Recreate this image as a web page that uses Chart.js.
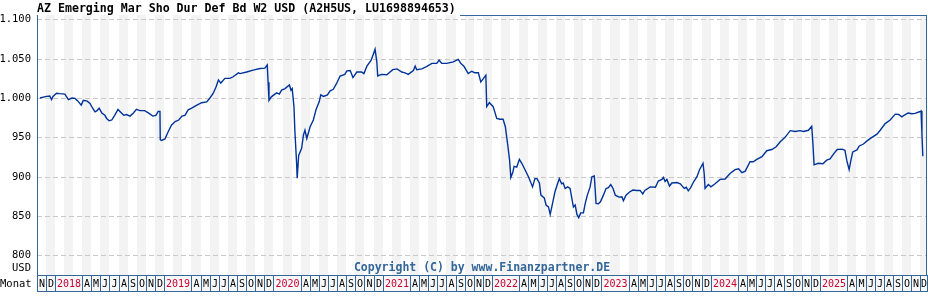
<!DOCTYPE html>
<html>
<head>
<meta charset="utf-8">
<script src="https://cdn.jsdelivr.net/npm/chart.js@4"></script>
<style>
  html, body { margin: 0; padding: 0; background: #fff; }
</style>
</head>
<body>
<canvas id="fundChart" width="928" height="300"></canvas>
<script>
// Fund price chart, Finanzpartner style

const chartTitle = 'AZ Emerging Mar Sho Dur Def Bd W2 USD (A2H5US, LU1698894653)';
const copyright = 'Copyright (C) by www.Finanzpartner.DE';
const yTicks = [800, 850, 900, 950, 1000, 1050, 1100];
const monthLetters = ['J', 'F', 'M', 'A', 'M', 'J', 'J', 'A', 'S', 'O', 'N', 'D'];

const dates = [
    '2017-11-12', '2017-12-04', '2017-12-15', '2017-12-21', '2017-12-26',
    '2018-01-07', '2018-01-18', '2018-02-04', '2018-02-15', '2018-02-26', '2018-03-08', '2018-03-18', '2018-03-29',
    '2018-04-05', '2018-04-18', '2018-04-27', '2018-05-06', '2018-05-14', '2018-05-21', '2018-05-28', '2018-06-06',
    '2018-06-16', '2018-06-22', '2018-06-30', '2018-07-09', '2018-07-19', '2018-07-30', '2018-08-11', '2018-08-19',
    '2018-08-28', '2018-09-09', '2018-09-20', '2018-09-30', '2018-10-12', '2018-10-28', '2018-11-09', '2018-11-24',
    '2018-12-04', '2018-12-12', '2018-12-18', '2018-12-19', '2018-12-23',
    '2019-01-04', '2019-01-15', '2019-01-26', '2019-02-07', '2019-02-18', '2019-02-28', '2019-03-10', '2019-03-21',
    '2019-04-02', '2019-04-19', '2019-05-05', '2019-05-22', '2019-06-02', '2019-06-13', '2019-06-22', '2019-06-30',
    '2019-07-08', '2019-07-22', '2019-08-08', '2019-08-19', '2019-09-06', '2019-09-11', '2019-10-03', '2019-10-25',
    '2019-11-17', '2019-12-03', '2019-12-11', '2019-12-14', '2019-12-17', '2019-12-25',
    '2020-01-12', '2020-01-21', '2020-01-29', '2020-02-09', '2020-02-23', '2020-02-28', '2020-03-03', '2020-03-09',
    '2020-03-12', '2020-03-18', '2020-03-20', '2020-03-25', '2020-04-04', '2020-04-10', '2020-04-15', '2020-04-21',
    '2020-05-02', '2020-05-13', '2020-05-22', '2020-06-02', '2020-06-07', '2020-06-16', '2020-06-29', '2020-07-08',
    '2020-07-19', '2020-07-30', '2020-08-11', '2020-08-27', '2020-09-03', '2020-09-14', '2020-09-23', '2020-10-06',
    '2020-10-22', '2020-10-30', '2020-11-09', '2020-11-23', '2020-12-06', '2020-12-12', '2020-12-15', '2020-12-28',
    '2021-01-15', '2021-02-04', '2021-02-17', '2021-03-04', '2021-03-15', '2021-03-26', '2021-04-12', '2021-04-18',
    '2021-04-23', '2021-05-10', '2021-05-26', '2021-06-13', '2021-06-29', '2021-07-07', '2021-07-16', '2021-08-02',
    '2021-08-24', '2021-09-10', '2021-09-18', '2021-09-29', '2021-10-13', '2021-10-25', '2021-11-05', '2021-11-16',
    '2021-11-24', '2021-12-03', '2021-12-11', '2021-12-14', '2021-12-23',
    '2022-01-05', '2022-01-17', '2022-01-28', '2022-02-07', '2022-02-14', '2022-02-22', '2022-02-27', '2022-03-03',
    '2022-03-10', '2022-03-14', '2022-03-23', '2022-04-01', '2022-04-09', '2022-04-20', '2022-05-01', '2022-05-15',
    '2022-05-23', '2022-05-30', '2022-06-07', '2022-06-12', '2022-06-23', '2022-06-29', '2022-07-07', '2022-07-13',
    '2022-07-21', '2022-07-29', '2022-08-07', '2022-08-13', '2022-08-21', '2022-08-26', '2022-09-02', '2022-09-10',
    '2022-09-18', '2022-09-24', '2022-09-29', '2022-10-05', '2022-10-11', '2022-10-17', '2022-10-24', '2022-11-02',
    '2022-11-08', '2022-11-15', '2022-11-24', '2022-11-30', '2022-12-08', '2022-12-14', '2022-12-22', '2022-12-29',
    '2023-01-08', '2023-01-17', '2023-01-25', '2023-02-02', '2023-02-09', '2023-02-16', '2023-02-27', '2023-03-09',
    '2023-03-14', '2023-03-23', '2023-04-04', '2023-04-15', '2023-04-28', '2023-05-09', '2023-05-18', '2023-05-25',
    '2023-06-12', '2023-06-29', '2023-07-09', '2023-07-21', '2023-07-26', '2023-08-01', '2023-08-07', '2023-08-16',
    '2023-08-24', '2023-09-10', '2023-09-21', '2023-10-04', '2023-10-11', '2023-10-18', '2023-10-26', '2023-11-05',
    '2023-11-16', '2023-11-24', '2023-12-06', '2023-12-10', '2023-12-13', '2023-12-24',
    '2024-01-02', '2024-01-16', '2024-02-02', '2024-02-18', '2024-03-05', '2024-03-22', '2024-04-03', '2024-04-14',
    '2024-04-25', '2024-05-11', '2024-05-22', '2024-06-03', '2024-06-20', '2024-07-06', '2024-07-23', '2024-08-07',
    '2024-08-20', '2024-09-06', '2024-09-23', '2024-10-10', '2024-10-26', '2024-11-07', '2024-11-23', '2024-12-04',
    '2024-12-08', '2024-12-12', '2024-12-26',
    '2025-01-11', '2025-01-24', '2025-02-04', '2025-02-15', '2025-02-26', '2025-03-14', '2025-03-24', '2025-03-30',
    '2025-04-07', '2025-04-13', '2025-04-19', '2025-05-03', '2025-05-11', '2025-05-25', '2025-06-06', '2025-06-22',
    '2025-07-09', '2025-07-20', '2025-08-06', '2025-08-23', '2025-09-09', '2025-09-20', '2025-10-01', '2025-10-08',
    '2025-10-22', '2025-11-04', '2025-11-14', '2025-11-29', '2025-12-04', '2025-12-07', '2025-12-10'
];

const prices = [
    1000, 1002, 1002.5, 998, 1002,
    1006, 1005.5, 1005, 998, 1000, 999.5, 996, 991,
    997, 996, 993, 987, 982.5, 984, 987, 981,
    978, 974, 971, 972, 978, 985.5, 981, 978,
    979, 977, 981, 985.5, 984, 984, 981, 977,
    978, 983, 983, 947, 946,
    948, 957, 965.5, 970, 972, 977, 978, 985,
    987, 991, 994, 995, 1000, 1006, 1014, 1023,
    1019, 1025, 1025, 1027, 1032, 1031, 1033, 1035.5,
    1037.5, 1038, 1042, 1020, 997, 1001.5,
    1006.5, 1005, 1010, 1012, 1016.5, 1010, 1012, 989,
    959, 917, 898, 927, 936, 953, 959, 948.5,
    963.5, 972, 985, 995.5, 1004, 1002, 1004, 1009,
    1011, 1018.5, 1028, 1030, 1034.5, 1035, 1026, 1033,
    1033, 1031, 1040.5, 1048, 1062, 1046, 1028, 1030,
    1029.5, 1036, 1037, 1033, 1032, 1030, 1035, 1040.5,
    1036, 1037, 1040, 1044, 1044, 1048, 1044, 1044,
    1046, 1049, 1044, 1040, 1031, 1034, 1032, 1032,
    1020.5, 1025, 1029, 989, 994,
    989, 974, 973, 973, 963.5, 938, 921, 899,
    906, 913, 912, 922, 917, 908.5, 900, 887,
    897.5, 897.5, 892, 876.5, 873, 864, 861.5, 852,
    866, 880.5, 891, 897.5, 891, 892, 885, 887,
    885, 872, 861.5, 864, 852, 848, 854, 854,
    866, 876.5, 887, 900, 901, 866, 865.5, 868,
    876.5, 885, 886, 890, 885, 876.5, 874, 874.5,
    869.5, 876.5, 880.5, 883, 882.5, 882.5, 878, 882.5,
    887, 886.5, 894.5, 896.5, 899, 894, 896.5, 888,
    892, 892.5, 891, 885, 886.5, 882, 886, 893.5,
    900, 908.5, 917, 904, 885, 890,
    887, 891, 896.5, 897, 904, 909, 910, 905,
    907, 919, 919, 922, 925.5, 933, 934.5, 938,
    944, 950, 958.5, 957.5, 958.5, 957.5, 959, 964,
    942, 915, 917,
    916.5, 921, 922.5, 929, 934.5, 935, 933.5, 921,
    909, 921, 931.5, 934, 939, 941.5, 945.5, 950,
    954, 959, 967.5, 972, 979.5, 979, 976, 978,
    981, 980, 980.5, 982.5, 983.5, 955, 926
];

// months since 1 Nov 2017 (fractional)
function monthPos(str) {
    const [y, m, d] = str.split('-').map(Number);
    const days = new Date(y, m, 0).getDate();
    return (y - 2017) * 12 + (m - 11) + (d - 1) / days;
}

function fmt(v) {
    return String(v).replace(/\B(?=(\d{3})+(?!\d))/g, '.');
}

const MONO = '"DejaVu Sans Mono", "Liberation Mono", monospace';
const BLUE = '#336699';

const finanzDecor = {
    id: 'finanzDecor',
    beforeDatasetsDraw(chart) {
        const { ctx, chartArea: a, scales: { x, y } } = chart;
        ctx.save();
        // alternating month stripes
        ctx.fillStyle = '#f3f3f3';
        for (let k = 1; k < 98; k += 2) {
            const x0 = Math.max(a.left, Math.round(x.getPixelForValue(k)));
            const x1 = Math.min(a.right, Math.round(x.getPixelForValue(k + 1)));
            if (x1 > x0) ctx.fillRect(x0, a.top, x1 - x0, a.bottom - a.top);
        }
        // dashed horizontal grid
        ctx.strokeStyle = '#c8c8c8';
        ctx.lineWidth = 1;
        ctx.setLineDash([5, 3]);
        yTicks.forEach(v => {
            const py = Math.round(y.getPixelForValue(v)) + 0.5;
            ctx.beginPath();
            ctx.moveTo(a.left, py);
            ctx.lineTo(a.right, py);
            ctx.stroke();
        });
        ctx.restore();
    },
    afterDraw(chart) {
        const { ctx, chartArea: a, scales: { x, y } } = chart;
        ctx.save();

        // y labels
        ctx.fillStyle = '#000';
        ctx.font = '10.5px ' + MONO;
        ctx.textAlign = 'right';
        ctx.textBaseline = 'middle';
        yTicks.forEach(v => ctx.fillText(fmt(v), 31, Math.round(y.getPixelForValue(v)) + 0.5));
        ctx.fillText('USD', 31, 268);
        ctx.textAlign = 'left';
        ctx.fillText('Monat', 0, 284);

        // month boxes
        const rowTop = a.bottom + 0.5, rowH = 16;
        ctx.font = '10px ' + MONO;
        ctx.textAlign = 'center';
        ctx.lineWidth = 1;
        ctx.strokeStyle = BLUE;
        for (let k = 0; k < 98; k++) {
            const mon = (k + 10) % 12;
            if (mon === 1 || mon === 2) continue;
            const span = mon === 0 ? 3 : 1;
            const x0 = Math.max(a.left, Math.round(x.getPixelForValue(k)));
            const x1 = Math.min(a.right, Math.round(x.getPixelForValue(k + span)));
            if (x1 <= x0) continue;
            ctx.fillStyle = '#f7f7f7';
            ctx.fillRect(x0, rowTop, x1 - x0, rowH);
            ctx.strokeRect(x0 + 0.5, rowTop, x1 - x0, rowH);
            const label = mon === 0 ? String(2017 + Math.floor((k + 10) / 12)) : monthLetters[mon];
            ctx.fillStyle = mon === 0 ? '#cc0033' : '#000';
            ctx.fillText(label, (x0 + x1) / 2 + 0.5, rowTop + rowH / 2 + 0.5);
        }

        // frame
        ctx.beginPath();
        ctx.moveTo(a.left + 0.5, a.top);
        ctx.lineTo(a.left + 0.5, a.bottom);
        ctx.moveTo(a.right - 0.5, a.top);
        ctx.lineTo(a.right - 0.5, a.bottom);
        ctx.moveTo(460, a.top + 0.5);
        ctx.lineTo(a.right, a.top + 0.5);
        ctx.stroke();

        // title + copyright
        ctx.fillStyle = '#000';
        ctx.font = 'bold 11.6px ' + MONO;
        ctx.textAlign = 'left';
        ctx.fillText(chartTitle, 37, 8.5);
        ctx.fillStyle = BLUE;
        ctx.font = 'bold 11.5px ' + MONO;
        ctx.textAlign = 'center';
        ctx.fillText(copyright, (a.left + a.right) / 2, 268);
        ctx.restore();
    }
};

const ctxFund = document.getElementById('fundChart').getContext('2d');
new Chart(ctxFund, {
    type: 'line',
    data: {
        datasets: [{
            data: dates.map((d, i) => ({ x: monthPos(d), y: prices[i] })),
            borderColor: '#003399',
            borderWidth: 1.4,
            pointRadius: 0,
            tension: 0,
            fill: false
        }]
    },
    options: {
        responsive: false,
        animation: false,
        layout: { padding: { left: 37, right: 1, top: 15, bottom: 25 } },
        plugins: { legend: { display: false }, tooltip: { enabled: false } },
        scales: {
            x: { type: 'linear', min: 0.05, max: 97.75, display: false },
            y: { min: 775, max: 1105.5, display: false }
        }
    },
    plugins: [finanzDecor]
});
</script>
</body>
</html>
